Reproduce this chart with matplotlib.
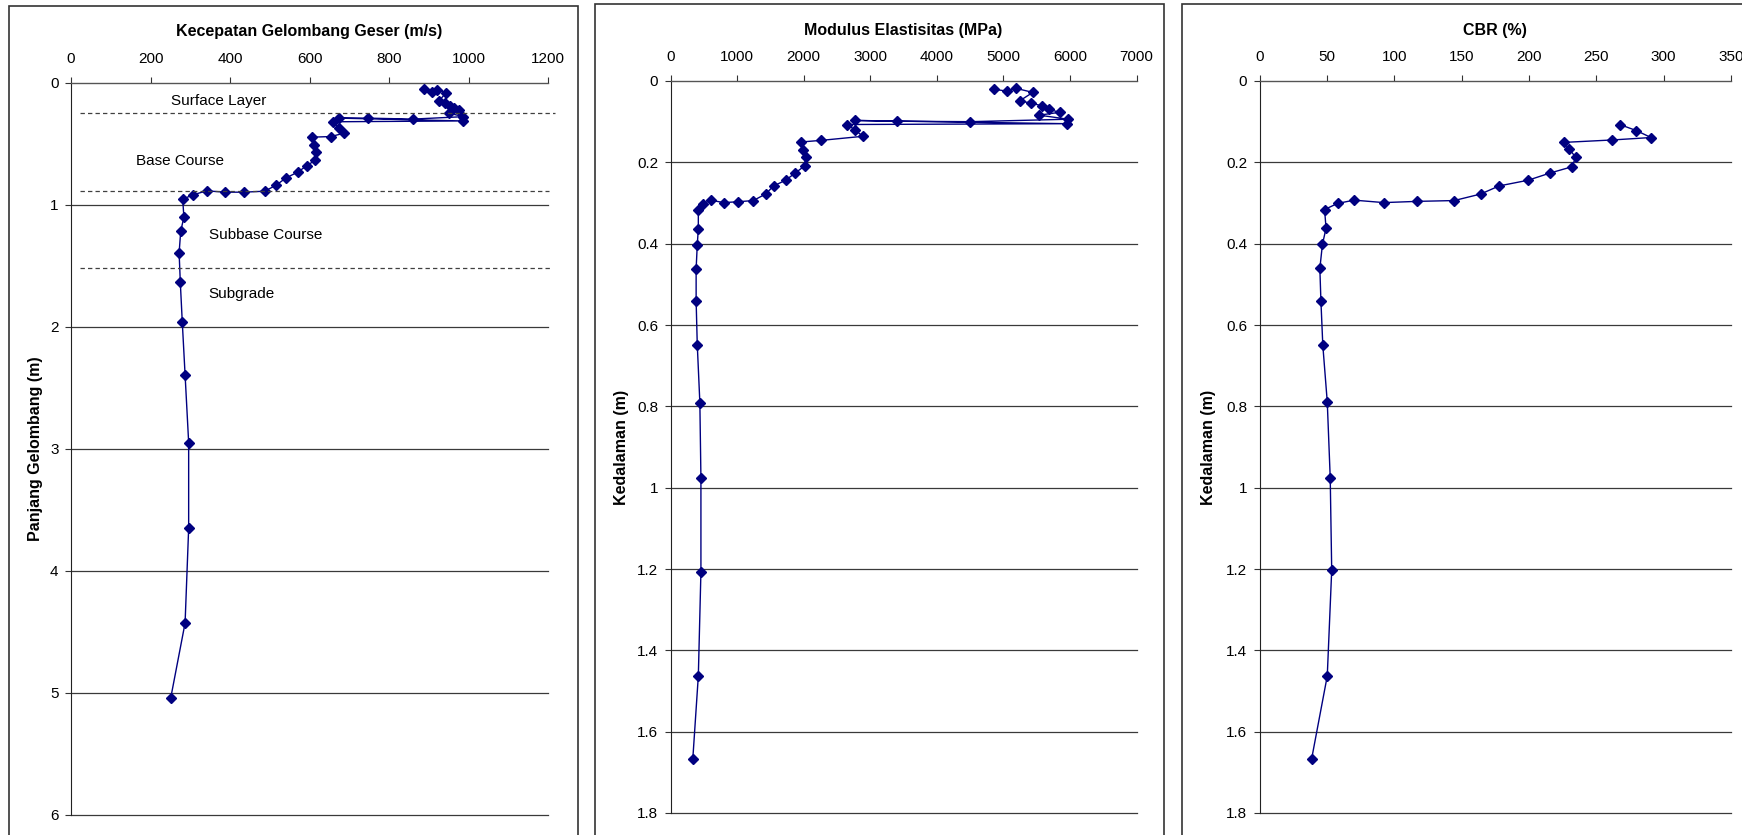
import matplotlib
matplotlib.use('Agg')
import matplotlib.pyplot as plt
from matplotlib.patches import Rectangle
from matplotlib.ticker import MultipleLocator, FuncFormatter

plt.rcParams['font.family'] = ['Liberation Sans', 'DejaVu Sans']

# --- data ---
# panel 1: shear wave velocity (m/s) vs wavelength (m)
vs = [888, 907, 921, 944, 926, 940, 953, 963, 975, 951, 987, 860, 746, 673,
      985, 658, 674, 687, 654, 607, 612, 617, 614, 593, 570, 540, 516, 487,
      435, 388, 341, 307, 281, 284, 276, 272, 275, 280, 287, 296, 296, 287, 251]
wavelength = [0.055, 0.074, 0.060, 0.082, 0.150, 0.169, 0.190, 0.212, 0.224,
              0.251, 0.280, 0.300, 0.292, 0.292, 0.315, 0.322, 0.369, 0.415,
              0.443, 0.448, 0.511, 0.566, 0.637, 0.683, 0.735, 0.784, 0.842,
              0.891, 0.899, 0.899, 0.888, 0.921, 0.956, 1.104, 1.219, 1.396,
              1.639, 1.967, 2.396, 2.951, 3.654, 4.430, 5.043]

# panel 2: elastic modulus (MPa) vs depth (m)
modulus = [4852, 5053, 5187, 5443, 5243, 5410, 5577, 5689, 5845, 5538, 5973,
           4506, 3408, 2777, 5956, 2655, 2777, 2889, 2264, 1958, 1997, 2030,
           2013, 1868, 1729, 1550, 1428, 1244, 1009, 798, 602, 491, 418, 418,
           402, 385, 385, 402, 441, 457, 457, 418, 335]
depth_e = [0.020, 0.025, 0.018, 0.028, 0.049, 0.054, 0.061, 0.070, 0.077,
           0.084, 0.094, 0.100, 0.099, 0.097, 0.105, 0.107, 0.121, 0.136,
           0.146, 0.150, 0.169, 0.188, 0.209, 0.227, 0.244, 0.258, 0.278,
           0.294, 0.297, 0.299, 0.293, 0.302, 0.317, 0.363, 0.403, 0.462,
           0.541, 0.648, 0.791, 0.976, 1.207, 1.463, 1.667]

# panel 3: CBR (%) vs depth (m)
cbr = [267.4, 279.8, 290.6, 261.9, 225.7, 230.1, 234.8, 231.8, 216.0, 199.4,
       177.9, 164.1, 144.5, 117.1, 92.3, 70.2, 58.0, 48.3, 49.4, 46.7, 44.8,
       45.6, 47.0, 50.3, 52.5, 53.6, 50.3, 38.7]
depth_cbr = [0.107, 0.122, 0.139, 0.145, 0.151, 0.168, 0.188, 0.211, 0.226,
             0.244, 0.258, 0.278, 0.294, 0.296, 0.299, 0.293, 0.301, 0.316,
             0.362, 0.402, 0.461, 0.542, 0.650, 0.789, 0.976, 1.203, 1.463,
             1.667]

layer_names = ['Surface Layer', 'Base Course', 'Subbase Course', 'Subgrade']
layer_bounds = [0.25, 0.89, 1.52]

W, H = 1742, 835
fig = plt.figure(figsize=(W / 100, H / 100), dpi=100)


def add_frame(left, right, top):
    # chart area border, runs off the bottom of the picture
    fig.patches.append(Rectangle((left / W, -0.05), (right - left) / W,
                                 1.05 - top / H, transform=fig.transFigure,
                                 fill=False, ec='#333333', lw=1.2))


def px_axes(left, right, top, bottom):
    return fig.add_axes([left / W, 1 - bottom / H, (right - left) / W,
                         (bottom - top) / H])


def style(ax, xmax, xstep, ymax, ystep, title, ylabel, ylabel_x):
    ax.set_xlim(0, xmax)
    ax.set_ylim(ymax, 0)
    ax.xaxis.tick_top()
    ax.xaxis.set_major_locator(MultipleLocator(xstep))
    ax.yaxis.set_major_locator(MultipleLocator(ystep))
    ax.yaxis.set_major_formatter(FuncFormatter(lambda v, p: f'{v:g}'))
    ax.spines['right'].set_visible(False)
    ax.spines['bottom'].set_visible(False)
    ax.spines['top'].set_color('#555555')
    ax.spines['left'].set_color('#222222')
    ax.tick_params(axis='both', direction='out', length=4, width=0.8,
                   labelsize=11, color='#333333')
    ax.tick_params(axis='x', pad=8)
    ax.tick_params(axis='y', pad=5)
    ax.yaxis.grid(True, color='#3a3a3a', lw=0.9)
    ax.set_axisbelow(True)
    for gl in ax.get_ygridlines():
        gl.set_clip_on(False)
    ax.set_xlabel(title, fontsize=11.5, fontweight='bold')
    ax.xaxis.set_label_position('top')
    ax.xaxis.label.set_va('center')
    ax.xaxis.set_label_coords(0.5, 1 + 51 / 732)
    ax.set_ylabel(ylabel, fontsize=11.5, fontweight='bold')
    ax.yaxis.label.set_va('center')
    ax.yaxis.set_label_coords(ylabel_x, 0.5)


line_kw = dict(color='#000080', lw=1.0, marker='D', ms=5,
               mec='#000080', mfc='#000080', clip_on=False)

# panel 1
add_frame(8.5, 578, 6)
ax1 = px_axes(71, 548, 82.5, 814.5)
style(ax1, 1200, 200, 6, 1, 'Kecepatan Gelombang Geser (m/s)',
      'Panjang Gelombang (m)', -0.075)
ax1.plot(vs, wavelength, **line_kw)
ax1.hlines(layer_bounds, [22, 22, 22], [1218, 1202, 1206], colors='#404040',
           lw=0.9, linestyles=(0, (3.5, 2.5)), clip_on=False)
for name, x, y in zip(layer_names, [372, 275, 491, 428], [0.155, 0.64, 1.25, 1.73]):
    ax1.text(x, y, name, fontsize=11, ha='center', va='center')

# panel 2
add_frame(595, 1164, 4)
ax2 = px_axes(670.5, 1136.5, 81, 813)
style(ax2, 7000, 1000, 1.8, 0.2, 'Modulus Elastisitas (MPa)',
      'Kedalaman (m)', -0.105)
ax2.plot(modulus, depth_e, **line_kw)

# panel 3
add_frame(1182, 1760, 4)
ax3 = px_axes(1259.5, 1731, 81, 813)
style(ax3, 350, 50, 1.8, 0.2, 'CBR (%)', 'Kedalaman (m)', -0.108)
ax3.plot(cbr, depth_cbr, **line_kw)

fig.savefig('out.png', dpi=100)
